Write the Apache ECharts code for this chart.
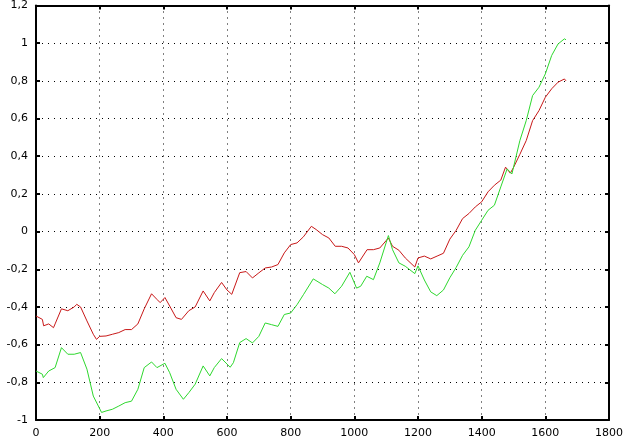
<!DOCTYPE html>
<html><head><meta charset="utf-8">
<script src="https://cdn.jsdelivr.net/npm/echarts@6/dist/echarts.min.js"></script>
<style>html,body{margin:0;padding:0;background:#fff}#c{width:628px;height:445px}</style>
</head><body><div id="c"></div>
<script>
const redX = [0,20,24,40,55,60,80,100,120,128,140,160,180,190,200,220,240,260,280,300,320,340,363,380,390,405,420,440,457,480,500,525,546,560,583,600,615,640,660,680,700,720,740,760,780,800,820,840,865,880,900,920,940,960,980,1000,1013,1040,1060,1080,1107,1120,1140,1160,1190,1200,1220,1240,1260,1280,1300,1320,1340,1360,1380,1400,1420,1440,1460,1475,1490,1500,1520,1540,1560,1580,1600,1620,1640,1660,1665];
const redVals = [-0.448,-0.466,-0.50,-0.49,-0.51,-0.49,-0.41,-0.42,-0.40,-0.386,-0.40,-0.474,-0.545,-0.572,-0.556,-0.554,-0.545,-0.536,-0.52,-0.52,-0.49,-0.41,-0.33,-0.36,-0.377,-0.35,-0.395,-0.457,-0.466,-0.42,-0.40,-0.315,-0.368,-0.324,-0.27,-0.31,-0.333,-0.218,-0.212,-0.246,-0.219,-0.193,-0.188,-0.175,-0.113,-0.069,-0.06,-0.028,0.028,0.011,-0.016,-0.034,-0.078,-0.078,-0.087,-0.122,-0.166,-0.096,-0.096,-0.087,-0.034,-0.078,-0.099,-0.14,-0.188,-0.14,-0.13,-0.145,-0.13,-0.115,-0.04,0.007,0.069,0.096,0.131,0.158,0.211,0.246,0.273,0.342,0.31,0.34,0.41,0.483,0.589,0.642,0.713,0.758,0.793,0.81,0.80];
const greenX = [0,20,23,40,60,80,100,120,140,160,180,206,220,240,260,280,300,320,340,363,380,405,420,440,463,480,500,525,546,560,583,610,620,640,660,680,700,720,740,760,780,800,820,840,871,900,920,939,960,986,1007,1020,1039,1060,1080,1107,1120,1140,1160,1190,1200,1220,1240,1259,1280,1300,1320,1340,1360,1380,1400,1420,1440,1460,1480,1495,1520,1540,1560,1580,1600,1620,1640,1660,1665];
const greenVals = [-0.74,-0.757,-0.775,-0.74,-0.722,-0.616,-0.651,-0.651,-0.642,-0.73,-0.873,-0.96,-0.952,-0.943,-0.926,-0.908,-0.9,-0.837,-0.722,-0.692,-0.722,-0.699,-0.749,-0.837,-0.89,-0.855,-0.81,-0.713,-0.766,-0.722,-0.674,-0.72,-0.696,-0.589,-0.568,-0.591,-0.556,-0.485,-0.494,-0.503,-0.44,-0.432,-0.388,-0.335,-0.251,-0.281,-0.3,-0.33,-0.29,-0.216,-0.3,-0.29,-0.237,-0.255,-0.166,-0.021,-0.096,-0.166,-0.184,-0.223,-0.182,-0.257,-0.32,-0.34,-0.31,-0.245,-0.19,-0.126,-0.081,0.007,0.06,0.113,0.14,0.237,0.333,0.306,0.483,0.589,0.722,0.766,0.837,0.935,0.996,1.023,1.018];
const xTicks = [0,200,400,600,800,1000,1200,1400,1600,1800];
const yTicks = [-1,-0.8,-0.6,-0.4,-0.2,0,0.2,0.4,0.6,0.8,1,1.2];

const chart = echarts.init(document.getElementById('c'));
const fmtY = v => { const r = Math.round(v*10)/10; return String(r).replace('.', ','); };
const fmtX = v => String(Math.round(v));
const lbl = {fontFamily:'DejaVu Sans', fontSize:11, color:'#000'};
const axLine = {show:true, onZero:false, lineStyle:{color:'#000', width:2}};
const tick = {show:true, inside:true, length:4, lineStyle:{color:'#000', width:2}};
const grid = {show:true, lineStyle:{color:'#000', width:1, type:[1,5]}};
chart.setOption({
  animation:false,
  backgroundColor:'#fff',
  grid:{left:36, right:19, top:5, bottom:25},
  xAxis:[
    {type:'value', min:xTicks[0], max:xTicks[xTicks.length-1], interval:xTicks[1]-xTicks[0], position:'bottom',
     axisLine:axLine, axisTick:tick, axisLabel:Object.assign({margin:8, formatter:fmtX}, lbl), splitLine:grid},
    {type:'value', min:xTicks[0], max:xTicks[xTicks.length-1], interval:xTicks[1]-xTicks[0], position:'top',
     axisLine:axLine, axisTick:tick, axisLabel:{show:false}, splitLine:{show:false}}
  ],
  yAxis:[
    {type:'value', min:yTicks[0], max:yTicks[yTicks.length-1], interval:0.2, position:'left',
     axisLine:axLine, axisTick:tick, axisLabel:Object.assign({margin:8, formatter:fmtY}, lbl), splitLine:grid},
    {type:'value', min:yTicks[0], max:yTicks[yTicks.length-1], interval:0.2, position:'right',
     axisLine:axLine, axisTick:tick, axisLabel:{show:false}, splitLine:{show:false}}
  ],
  series:[
    {type:'line', data:redX.map((x,i)=>[x,redVals[i]]), showSymbol:false, lineStyle:{color:'#c81818', width:1}, itemStyle:{color:'#c81818'}},
    {type:'line', data:greenX.map((x,i)=>[x,greenVals[i]]), showSymbol:false, lineStyle:{color:'#2ed82e', width:1}, itemStyle:{color:'#2ed82e'}}
  ]
});
</script></body></html>
